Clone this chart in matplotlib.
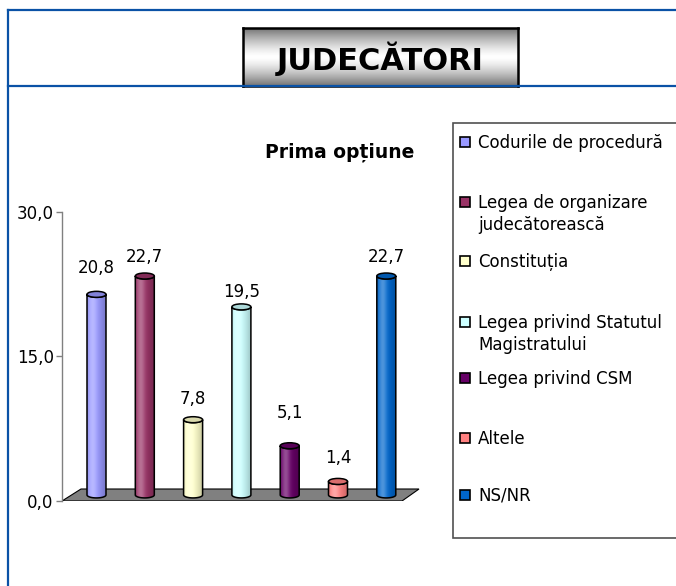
import numpy as np
import matplotlib
matplotlib.use("Agg")
import matplotlib.pyplot as plt
from matplotlib.patches import Rectangle, Ellipse, Polygon
from matplotlib.colors import to_rgb

plt.rcParams['font.family'] = ['DejaVu Sans']

# ---- data
categories = ["Codurile de procedură", "Legea de organizare\njudecătorească", "Constituția",
              "Legea privind Statutul\nMagistratului", "Legea privind CSM", "Altele", "NS/NR"]
values = [20.8, 22.7, 7.8, 19.5, 5.1, 1.4, 22.7]
yticks = [0, 15, 30]
colors = ["#9999FF", "#993366", "#FFFFCC", "#CCFFFF", "#660066", "#FF8080", "#0066CC"]

title = "JUDECĂTORI"
subtitle = "Prima opțiune"

# ---- layout (pixels of a 676x586 canvas)
W, H = 676, 586
label_lift = [21, 14, 16, 10, 28, 18, 14]          # px above each bar top
legend_y = [142, 202, 261, 322, 378, 438, 495]      # px, first line of each entry
frame_blue = "#0A52A6"


def fx(x):
    return x / W


def fy(y):
    return 1 - y / H


def comma(v):
    return f"{v:.1f}".replace(".", ",")


fig = plt.figure(figsize=(W / 100, H / 100), dpi=100)

# blue frame lines
for xs, ys in [([8, W], [10, 10]), ([8, W], [86, 86]), ([8, 8], [10, H])]:
    fig.add_artist(plt.Line2D([fx(x) for x in xs], [fy(y) for y in ys],
                              transform=fig.transFigure, color=frame_blue, lw=1.6))

# title box with grey-white-grey gradient
tax = fig.add_axes([fx(243), fy(86), (518 - 243) / W, (86 - 28) / H])
t = np.linspace(-1, 1, 200)
shade = 1 - 0.55 * np.abs(t) ** 1.4
tax.imshow(shade[:, None], cmap="gray", vmin=0, vmax=1, aspect="auto",
           extent=[0, 1, 0, 1], interpolation="bilinear")
tax.set_xticks([])
tax.set_yticks([])
for s in tax.spines.values():
    s.set_linewidth(1.8)
    s.set_color("black")
tax.text(0.5, 0.47, title, transform=tax.transAxes, ha="center", va="center",
         fontsize=22, fontweight="bold", color="black")

# ---- chart area
ax_l, ax_r, ax_b, ax_t = 62, 430, 501, 211.7
ax = fig.add_axes([fx(ax_l), fy(ax_b), (ax_r - ax_l) / W, (ax_b - ax_t) / H])
px_x = 48.3                       # px per category
px_y = (ax_b - ax_t) / 30         # px per unit
x0 = (ax_l - 96.5) / px_x
x1 = x0 + (ax_r - ax_l) / px_x

# floor
depth = 12 / px_y
floor = Polygon([(x0, 0), ((402 - 96.5) / px_x, 0), ((419 - 96.5) / px_x, depth),
                 ((81 - 96.5) / px_x, depth)], closed=True,
                facecolor="#808080", edgecolor="black", lw=0.8, zorder=1)
ax.add_patch(floor)

base = 0.63
a = 9.5 / px_x                    # half bar width
b = 3.0 / px_y                    # half ellipse height
theta = np.linspace(np.pi, 2 * np.pi, 40)
tt = np.linspace(0, 1, 60)
light = 0.30 * np.exp(-((tt - 0.3) / 0.22) ** 2)
dark = 0.22 * np.clip((tt - 0.45) / 0.55, 0, 1) ** 1.3 + 0.08 * np.clip(1 - tt / 0.12, 0, 1)

for i, (v, c) in enumerate(zip(values, colors)):
    rgb = np.array(to_rgb(c))
    top = base + v
    arc_x = i + a * np.cos(theta)
    arc_y = b * np.sin(theta)
    pts = ([(i - a, top)] + list(zip(arc_x, base + arc_y)) + [(i + a, top)]
           + list(zip(arc_x[::-1], top + arc_y[::-1])))
    body = Polygon(pts, closed=True, facecolor="none", edgecolor="black", lw=1.1, zorder=4)
    ax.add_patch(body)
    grad = rgb[None, :] * (1 - dark[:, None]) + light[:, None] * (1 - rgb[None, :])
    img = ax.imshow(grad[None, :, :], extent=[i - a, i + a, base - b, top], aspect="auto",
                    interpolation="bilinear", zorder=3)
    img.set_clip_path(body)
    cap = Ellipse((i, top), 2 * a, 2 * b, facecolor=rgb * 0.85, edgecolor="black",
                  lw=1.1, zorder=5)
    ax.add_patch(cap)
    ax.annotate(comma(v), (i, top), xytext=(0, label_lift[i] * 0.72),
                textcoords="offset points", ha="center", va="baseline", fontsize=12)

ax.set_xlim(x0, x1)
ax.set_ylim(0, 30)
for side in ["top", "right", "bottom"]:
    ax.spines[side].set_visible(False)
ax.spines["left"].set_color("#808080")
ax.spines["left"].set_linewidth(1.0)
ax.set_xticks([])
ax.set_yticks(yticks)
ax.set_yticklabels([comma(v) for v in yticks])
ax.tick_params(axis="y", direction="out", length=4, width=1, color="#808080",
               labelsize=12, pad=2)
ax.patch.set_alpha(0)

fig.text(fx(340), fy(152), subtitle, ha="center", va="center", fontsize=13.5,
         fontweight="bold")

# ---- legend
fig.add_artist(Rectangle((fx(453), fy(538)), 1, (538 - 123) / H, transform=fig.transFigure,
                         facecolor="white", edgecolor="#505050", lw=1.2, zorder=0))
for name, c, y in zip(categories, colors, legend_y):
    fig.add_artist(Rectangle((fx(460.5), fy(y + 5)), 10 / W, 10 / H,
                             transform=fig.transFigure, facecolor=c,
                             edgecolor="black", lw=1.2))
    for k, line in enumerate(name.split("\n")):
        fig.text(fx(478), fy(y + 6 + 22.5 * k), line, ha="left", va="baseline",
                 fontsize=12)

fig.savefig("out.png", dpi=100)
